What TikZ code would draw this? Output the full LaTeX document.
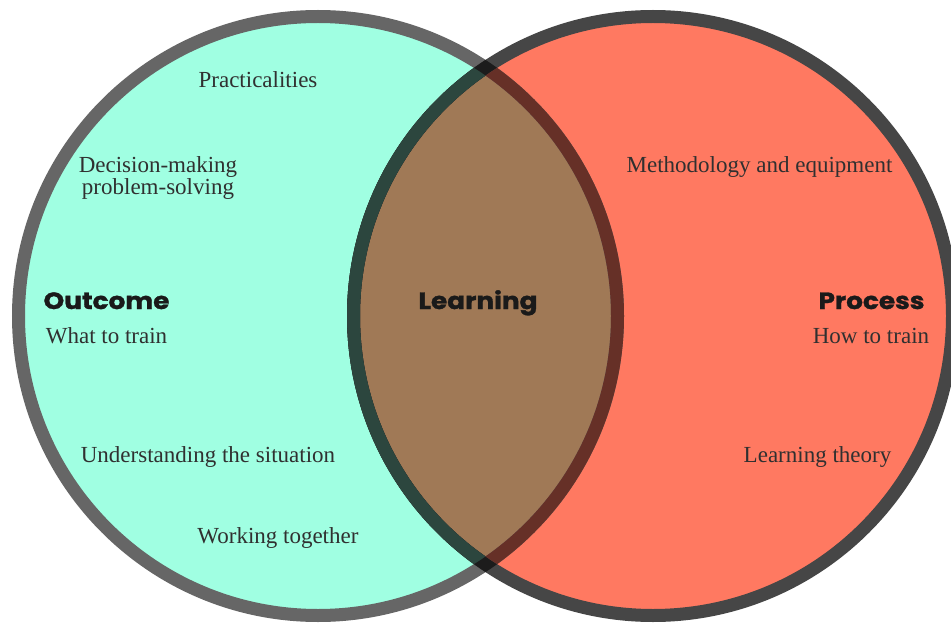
\documentclass[tikz,border=0pt]{standalone}
\usepackage{fontspec}
\setmainfont{Liberation Serif}
\newfontfamily\headfont{Poppins}[FakeStretch=1.12, BoldFeatures={FakeBold=1.3}]
\definecolor{mint}{RGB}{160,255,226}
\definecolor{salmon}{RGB}{255,121,97}
\definecolor{brownmix}{RGB}{160,121,86}
\definecolor{lring}{RGB}{102,102,102}
\definecolor{rring}{RGB}{70,70,70}
\definecolor{rringmint}{RGB}{44,70,62}
\definecolor{lringsalmon}{RGB}{102,48,39}
\definecolor{ringmix}{RGB}{28,28,28}
\definecolor{bodytext}{RGB}{48,48,48}
\definecolor{headtext}{RGB}{26,26,26}
\tikzset{
  ring/.style={line width=13},
  body/.style={font=\fontsize{23}{27}\selectfont, text=bodytext, anchor=base, inner sep=0pt},
  head/.style={font=\headfont\bfseries\fontsize{23.5}{27}\selectfont, text=headtext, anchor=base, inner sep=0pt}
}
\begin{document}
\begin{tikzpicture}[x=1pt,y=-1pt]
\clip (0,0) rectangle (951,623);
\coordinate (L) at (318,316);
\coordinate (R) at (653,316);
% fills
\fill[mint] (L) circle (299.5);
\fill[salmon] (R) circle (299.5);
\begin{scope}
  \clip (L) circle (299.5);
  \fill[brownmix] (R) circle (299.5);
\end{scope}
% rings
\draw[ring, lring] (L) circle (299.5);
\draw[ring, rring] (R) circle (299.5);
\begin{scope}
  \clip (L) circle (306);
  \draw[ring, ringmix] (R) circle (299.5);
\end{scope}
\begin{scope}
  \clip (L) circle (293);
  \draw[ring, rringmint] (R) circle (299.5);
\end{scope}
\begin{scope}
  \clip (R) circle (293);
  \draw[ring, lringsalmon] (L) circle (299.5);
\end{scope}
% texts
\node[body] (prac) at (258,88) {Practicalities};
\node[body] (dm1) at (158,172) {Decision-making};
\node[body] (dm2) at (158,195) {problem-solving};
\node[head] (outcome) at (106.5,309) {Outcome};
\node[body] (what) at (106.5,343) {What to train};
\node[body] (under) at (208,462) {Understanding the situation};
\node[body] (work) at (278,543) {Working together};
\node[head] (learning) at (478,309) {Learning};
\node[body] (meth) at (759.5,172) {Methodology and equipment};
\node[head] (process) at (871.5,309) {Process};
\node[body] (how) at (871,343) {How to train};
\node[body] (theory) at (817.5,462) {Learning theory};
\end{tikzpicture}
\end{document}
